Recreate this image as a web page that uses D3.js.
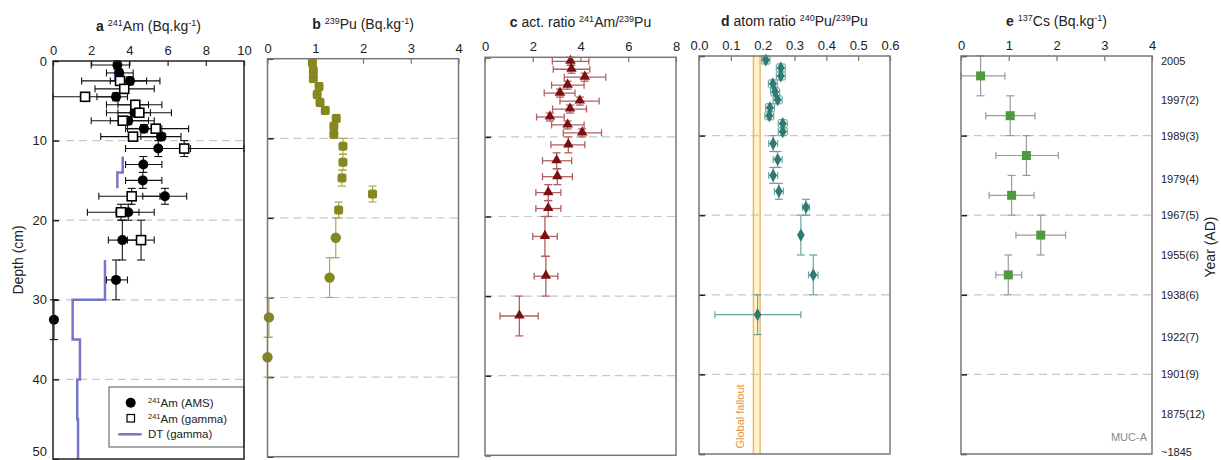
<!DOCTYPE html>
<html><head><meta charset="utf-8">
<script src="https://cdn.jsdelivr.net/npm/d3@7"></script>
<style>body{margin:0;background:#fff;} text{font-family:"Liberation Sans",Arial,sans-serif;}</style>
</head><body><svg id="c" width="1221" height="460"></svg>
<script>
// ---------- shared sample depths (cm) ----------
const sampleMid = [0.5,1.5,2.5,3.5,4.5,5.5,6.5,7.5,8.5,9.5,11,13,15,17,19,22.5,27.5,32.5,37.5];
const sampleTop = [0,1,2,3,4,5,6,7,8,9,10,12,14,16,18,20,25,30,35];
const sampleBot = [1,2,3,4,5,6,7,8,9,10,12,14,16,18,20,25,30,35,40];

// ---------- panel a : 241Am ----------
const amsValue = [3.37,3.47,4.03,null,3.3,4.3,4.26,3.94,4.76,5.65,5.51,4.73,4.7,5.86,3.94,3.63,3.3,0.05,null];
const amsLow   = [2.0,2.8,3.0,null,2.3,3.4,3.4,3.0,3.9,4.6,3.8,3.8,3.8,4.7,3.3,2.9,2.8,0,null];
const amsHigh  = [4.0,4.2,4.9,null,3.9,5.0,5.1,5.0,5.7,6.7,7.2,5.7,5.7,7.0,5.3,4.4,3.9,0.1,null];
const gammaValue = [null,null,3.51,3.73,1.68,4.31,4.52,3.65,5.38,4.19,6.87,null,null,4.12,3.56,4.61,null,null,null];
const gammaLow   = [null,null,1.5,2.2,0,2.8,2.8,2.0,3.8,2.5,5.5,null,null,2.4,1.8,3.9,null,null,null];
const gammaHigh  = [null,null,5.6,5.3,3.4,5.7,6.2,5.3,7.1,5.9,10,null,null,5.6,4.5,5.3,null,null,null];
const dtTop    = [0,12,14,25,30,35,40,45];
const dtBottom = [2.5,14,16,30,35,40,45,50];
const dtValue  = [3.25,3.65,3.37,2.72,1.03,1.41,1.27,1.31];

// ---------- panel b : 239Pu ----------
const puValue = [0.94,0.96,0.96,1.08,1.04,1.10,1.21,1.44,1.39,1.39,1.58,1.58,1.56,2.2,1.49,1.43,1.3,0.03,0.0];
const puErr   = [0.05,0.05,0.05,0.05,0.05,0.05,0.05,0.05,0.05,0.05,0.05,0.05,0.05,0.08,0.05,0,0,0,0];

// ---------- panel c : 241Am/239Pu activity ratio ----------
const ratioValue = [3.58,3.62,4.18,3.46,3.14,3.97,3.56,2.72,3.46,4.07,3.49,3.0,3.03,2.65,2.65,2.51,2.55,1.44,null];
const ratioLow   = [2.82,2.86,3.32,2.79,2.48,3.14,2.83,2.16,2.79,3.28,2.76,2.41,2.41,2.13,2.13,2.0,2.06,0.63,null];
const ratioHigh  = [4.35,4.39,5.06,4.15,3.77,4.78,4.25,3.32,4.15,4.88,4.18,3.63,3.66,3.18,3.18,3.03,3.05,2.23,null];

// ---------- panel d : 240Pu/239Pu atom ratio ----------
const atomValue = [0.21,0.257,0.257,0.232,0.239,0.247,0.223,0.221,0.263,0.263,0.233,0.247,0.233,0.251,0.336,0.32,0.359,0.184,null];
const atomLow   = [0.197,0.243,0.243,0.218,0.225,0.233,0.209,0.207,0.249,0.249,0.219,0.233,0.219,0.237,0.325,0.32,0.344,0.05,null];
const atomHigh  = [0.223,0.271,0.271,0.246,0.253,0.261,0.237,0.235,0.277,0.277,0.247,0.261,0.247,0.265,0.347,0.32,0.374,0.32,null];
const falloutLow = 0.171, falloutHigh = 0.192;

// ---------- panel e : 137Cs ----------
const csTop    = [0,5,10,15,20,25];
const csBottom = [5,10,15,20,25,30];
const csValue  = [0.41,1.03,1.37,1.06,1.67,0.99];
const csLow    = [0,0.52,0.73,0.59,1.15,0.73];
const csHigh   = [0.92,1.55,2.04,1.53,2.19,1.27];

// ---------- axes / labels ----------
const depthTicks = [0,10,20,30,40,50];
const gridDepths = [10,20,30,40];
const ticksA = [0,2,4,6,8,10];
const ticksB = [0,1,2,3,4];
const ticksC = [0,2,4,6,8];
const ticksD = [0,0.1,0.2,0.3,0.4,0.5,0.6];
const ticksE = [0,1,2,3,4];
const yearLabels = ["2005","1997(2)","1989(3)","1979(4)","1967(5)","1955(6)","1938(6)","1922(7)","1901(9)","1875(12)","~1845"];
const yearDepths = [0.6,5.5,10,15.5,20,25,30,35.3,40,45,49.8];
const titleA = [["a",1],[" "],["241",2],["Am  (Bq.kg"],["-1",2],[")"]];
const titleB = [["b",1],[" "],["239",2],["Pu (Bq.kg"],["-1",2],[")"]];
const titleC = [["c",1],[" act. ratio "],["241",2],["Am/"],["239",2],["Pu"]];
const titleD = [["d",1],[" atom ratio "],["240",2],["Pu/"],["239",2],["Pu"]];
const titleE = [["e",1],[" "],["137",2],["Cs (Bq.kg"],["-1",2],[")"]];

// ---------- drawing ----------
const svg = d3.select("#c");
const W = 191, H = 398;
const panels = [
  {left:53,   top:61,   domain:[0,10],  ticks:ticksA, title:titleA, frame:"#222", fmt:d3.format("d")},
  {left:267.5,top:58.7, domain:[0,4],   ticks:ticksB, title:titleB, frame:"#777", fmt:d3.format("d")},
  {left:485,  top:57.3, domain:[0,8],   ticks:ticksC, title:titleC, frame:"#777", fmt:d3.format("d")},
  {left:699,  top:56,   domain:[0,0.6], ticks:ticksD, title:titleD, frame:"#777", fmt:d3.format(".1f")},
  {left:961,  top:56,   domain:[0,4],   ticks:ticksE, title:titleE, frame:"#777", fmt:d3.format("d")}
];
panels.forEach(p => {
  p.x = d3.scaleLinear().domain(p.domain).range([p.left, p.left + W]);
  p.y = d3.scaleLinear().domain([0,50]).range([p.top, p.top + H]);
  p.g = svg.append("g");
  p.g.selectAll(".grid").data(gridDepths).join("line")
    .attr("x1", p.left).attr("x2", p.left + W)
    .attr("y1", d => p.y(d)).attr("y2", d => p.y(d))
    .attr("stroke", "#c8c8c8").attr("stroke-width", 1.2).attr("stroke-dasharray", "8,5");
  const ax = p.g.append("g").attr("transform", `translate(0,${p.top})`)
    .call(d3.axisTop(p.x).tickValues(p.ticks).tickFormat(p.fmt).tickSizeInner(-5).tickSizeOuter(0).tickPadding(6));
  ax.select(".domain").remove();
  ax.selectAll("line").attr("stroke", p.frame).attr("stroke-width", 1.2);
  ax.selectAll("text").attr("font-size", 13).attr("fill", "#222").attr("font-family", "Liberation Sans, Arial, sans-serif");
  const ly = p.g.append("g").attr("transform", `translate(${p.left},0)`)
    .call(d3.axisLeft(p.y).tickValues(depthTicks).tickSizeInner(-6).tickSizeOuter(0).tickPadding(6)
      .tickFormat(p === panels[0] ? d3.format("d") : ""));
  ly.select(".domain").remove();
  ly.selectAll("line").attr("stroke", "#222").attr("stroke-width", 1.5);
  ly.selectAll("text").attr("font-size", 13).attr("fill", "#222").attr("font-family", "Liberation Sans, Arial, sans-serif")
    .attr("dy", d => d === 50 ? "-0.3em" : "0.32em");
  const t = p.g.append("text").attr("x", p.left + W / 2).attr("y", p.top - 30)
    .attr("text-anchor", "middle").attr("font-size", 14).attr("fill", "#222");
  let shift = 0;
  p.title.forEach(([s, k]) => {
    const ts = t.append("tspan").text(s);
    if (k === 1) ts.attr("font-weight", "bold");
    if (k === 2) { ts.attr("font-size", 9).attr("dy", -5 - shift); shift = -5; }
    else { if (shift) ts.attr("dy", -shift); shift = 0; }
  });
});

function errBars(g, pts, color, w) {
  pts.forEach(q => {
    if (q.xlo != null && q.xhi > q.xlo) {
      g.append("line").attr("x1", q.xlo).attr("x2", q.xhi).attr("y1", q.y).attr("y2", q.y).attr("stroke", color).attr("stroke-width", w);
      [q.xlo, q.xhi].forEach(xx => g.append("line").attr("x1", xx).attr("x2", xx).attr("y1", q.y - 3.5).attr("y2", q.y + 3.5).attr("stroke", color).attr("stroke-width", w));
    }
    if (q.ylo != null) {
      g.append("line").attr("x1", q.x).attr("x2", q.x).attr("y1", q.ylo).attr("y2", q.yhi).attr("stroke", color).attr("stroke-width", w);
      [q.ylo, q.yhi].forEach(yy => g.append("line").attr("x1", q.x - 4).attr("x2", q.x + 4).attr("y1", yy).attr("y2", yy).attr("stroke", color).attr("stroke-width", w));
    }
  });
}
function pts(p, vals, lo, hi, midArr, topArr, botArr) {
  const out = [];
  vals.forEach((v, i) => {
    if (v == null) return;
    out.push({i, x: p.x(v), y: p.y(midArr[i]), xlo: lo ? p.x(lo[i]) : null, xhi: hi ? p.x(hi[i]) : null,
      ylo: p.y(topArr[i]), yhi: p.y(botArr[i]), thick: botArr[i] - topArr[i]});
  });
  return out;
}

// ----- panel a -----
{
  const p = panels[0], g = p.g;
  let segs = [], cur = null;
  dtValue.forEach((v, i) => {
    if (!cur || dtTop[i] !== dtBottom[i - 1]) { cur = []; segs.push(cur); }
    cur.push([v, dtTop[i]], [v, dtBottom[i]]);
  });
  const line = d3.line().x(d => p.x(d[0])).y(d => p.y(d[1]));
  segs.forEach(s => g.append("path").attr("d", line(s)).attr("fill", "none").attr("stroke", "#7575cc").attr("stroke-width", 2.5));
  const A = pts(p, amsValue, amsLow, amsHigh, sampleMid, sampleTop, sampleBot);
  const G = pts(p, gammaValue, gammaLow, gammaHigh, sampleMid, sampleTop, sampleBot);
  errBars(g, A, "#111", 1.1);
  errBars(g, G, "#111", 1.1);
  g.selectAll(".am").data(A).join("circle").attr("cx", d => d.x).attr("cy", d => d.y).attr("r", 5).attr("fill", "#000");
  g.selectAll(".gm").data(G).join("rect").attr("x", d => d.x - 4.5).attr("y", d => d.y - 4.5).attr("width", 9).attr("height", 9)
    .attr("fill", "#fff").attr("stroke", "#000").attr("stroke-width", 1.6);
  const lg = g.append("g");
  lg.append("rect").attr("x", 109).attr("y", 387).attr("width", 135).attr("height", 60).attr("fill", "#fff").attr("stroke", "#555").attr("stroke-width", 1);
  lg.append("circle").attr("cx", 130.7).attr("cy", 402.7).attr("r", 5).attr("fill", "#000");
  lg.append("rect").attr("x", 127).attr("y", 414.5).attr("width", 7.5).attr("height", 7.5).attr("fill", "#fff").attr("stroke", "#000").attr("stroke-width", 1.2);
  lg.append("line").attr("x1", 118.3).attr("x2", 141.7).attr("y1", 434.3).attr("y2", 434.3).attr("stroke", "#7575cc").attr("stroke-width", 2.5);
  const items = [[["241",2],["Am (AMS)"]], [["241",2],["Am (gamma)"]], [["DT (gamma)"]]];
  items.forEach((it, k) => {
    const t = lg.append("text").attr("x", 148).attr("y", 406.7 + k * 15.8).attr("font-size", 11.5).attr("fill", "#222");
    let sh = 0;
    it.forEach(([s, kk]) => {
      const ts = t.append("tspan").text(s);
      if (kk === 2) { ts.attr("font-size", 7.5).attr("dy", -4); sh = -4; } else if (sh) { ts.attr("dy", 4); sh = 0; }
    });
  });
}

// ----- panel b -----
{
  const p = panels[1], g = p.g;
  const lo = puValue.map((v, i) => v == null ? null : v - puErr[i]);
  const hi = puValue.map((v, i) => v == null ? null : v + puErr[i]);
  const P = pts(p, puValue, lo, hi, sampleMid, sampleTop, sampleBot);
  errBars(g, P, "#a8a85a", 1.2);
  P.forEach(d => {
    if (d.thick <= 2) {
      g.append("rect").attr("x", d.x - 4.5).attr("y", d.y - 4.5).attr("width", 9).attr("height", 9).attr("rx", 2.5).attr("fill", "#87871f");
    } else {
      g.append("circle").attr("cx", d.x).attr("cy", d.y).attr("r", 5.2).attr("fill", "#87871f");
    }
  });
}

// ----- panel c -----
{
  const p = panels[2], g = p.g;
  const P = pts(p, ratioValue, ratioLow, ratioHigh, sampleMid, sampleTop, sampleBot);
  errBars(g, P, "#b25f5f", 1.3);
  const tri = d3.symbol().type(d3.symbolTriangle).size(48);
  g.selectAll(".tr").data(P).join("path").attr("d", tri).attr("transform", d => `translate(${d.x},${d.y - 0.5})`).attr("fill", "#7a1010");
}

// ----- panel d -----
{
  const p = panels[3], g = p.g;
  g.insert("rect", ":first-child").attr("x", p.x(falloutLow)).attr("y", p.top).attr("width", p.x(falloutHigh) - p.x(falloutLow)).attr("height", H)
    .attr("fill", "#fdf4cc");
  [falloutLow, falloutHigh].forEach(v => g.append("line").attr("x1", p.x(v)).attr("x2", p.x(v)).attr("y1", p.top).attr("y2", p.top + H)
    .attr("stroke", "#f0b56e").attr("stroke-width", 1.5));
  g.append("text").attr("transform", `translate(744,416.5) rotate(-90)`).attr("text-anchor", "middle")
    .attr("font-size", 11).attr("fill", "#e8902e").text("Global fallout");
  const P = pts(p, atomValue, atomLow, atomHigh, sampleMid, sampleTop, sampleBot);
  errBars(g, P, "#6aa6a0", 1.2);
  const dia = d3.symbol().type(d3.symbolDiamond).size(50);
  g.selectAll(".dm").data(P).join("path").attr("d", dia).attr("transform", d => `translate(${d.x},${d.y})`).attr("fill", "#2e7b73");
}

// ----- panel e -----
{
  const p = panels[4], g = p.g;
  const csMid = csTop.map((t, i) => (t + csBottom[i]) / 2);
  const P = pts(p, csValue, csLow, csHigh, csMid, csTop, csBottom);
  errBars(g, P, "#9a9a9a", 1.2);
  g.selectAll(".cs").data(P).join("rect").attr("x", d => d.x - 4.5).attr("y", d => d.y - 4.5).attr("width", 9).attr("height", 9).attr("fill", "#4f9a3d");
  g.append("text").attr("x", 1147).attr("y", 440.5).attr("text-anchor", "end").attr("font-size", 11).attr("fill", "#888").text("MUC-A");
  const yr = g.append("g").attr("transform", `translate(${p.left + W},0)`)
    .call(d3.axisRight(p.y).tickValues(yearDepths).tickFormat((d, i) => yearLabels[i]).tickSize(0).tickPadding(9));
  yr.select(".domain").remove();
  yr.selectAll("text").attr("font-size", 11).attr("fill", "#222").attr("font-family", "Liberation Sans, Arial, sans-serif");
  svg.append("text").attr("transform", "translate(1215,247) rotate(-90)").attr("text-anchor", "middle").attr("font-size", 14).attr("fill", "#222").text("Year (AD)");
}

// frames on top
panels.forEach(p => {
  svg.append("rect").attr("x", p.left).attr("y", p.top).attr("width", W).attr("height", H)
    .attr("fill", "none").attr("stroke", p.frame).attr("stroke-width", 1.5);
});
svg.append("text").attr("transform", "translate(23,260) rotate(-90)").attr("text-anchor", "middle").attr("font-size", 14).attr("fill", "#222").text("Depth (cm)");
</script></body></html>
